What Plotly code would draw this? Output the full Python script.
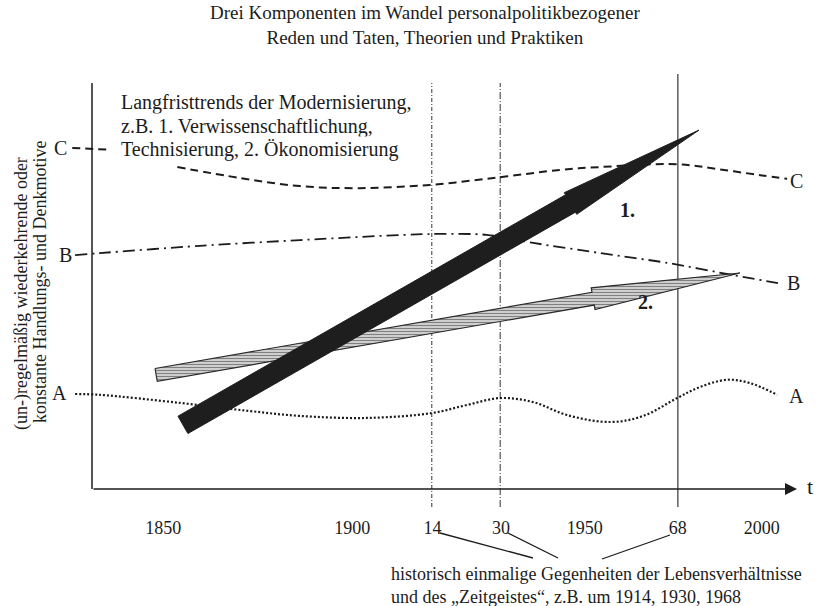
import math
import plotly.graph_objects as go

# ---------------- data (schematic time axis 0..100, level axis 0..100) ----------------
tick_labels = ["1850", "1900", "14", "30", "1950", "68", "2000"]
tick_pos = [10.1, 36.9, 48.3, 58.0, 69.9, 83.1, 95.0]

event_labels = ["14", "30", "68"]
event_pos = [48.2, 57.9, 83.1]

# C: dashed curve (gap where it runs behind the text block)
c_x = [-2.8, 2.3, None, 12.1, 21.0, 29.5, 38.0, 47.9, 57.9, 66.4, 72.1, 83.0, 88.7, 94.8, 98.6]
c_y = [84.0, 83.6, None, 79.3, 76.6, 74.6, 74.1, 74.9, 76.8, 78.6, 79.3, 80.0, 78.8, 77.3, 76.4]

# B: dash-dot curve
b_x = [-2.4, 1.1, 15.3, 29.5, 47.9, 56.0, 62.6, 72.1, 81.6, 90.9, 97.3]
b_y = [57.6, 58.1, 59.9, 61.3, 62.8, 62.6, 60.6, 58.1, 55.7, 52.7, 50.7]

# A: dotted wavy curve
a_x = [-2.4, 1.1, 12.5, 22.4, 29.5, 39.0, 48.2, 53.2, 57.9, 62.6, 67.4, 73.5, 78.2, 83.0, 86.2, 90.1, 93.3, 97.2]
a_y = [23.4, 23.2, 21.2, 19.2, 18.0, 17.5, 18.7, 20.7, 22.4, 21.4, 18.2, 16.5, 18.0, 22.4, 25.1, 26.9, 26.1, 23.2]

# trend arrows: tail -> tip
arrow1_tail, arrow1_tip = (12.9, 15.8), (86.1, 88.4)   # 1. Verwissenschaftlichung/Technisierung
arrow2_tail, arrow2_tip = (9.1, 28.1), (91.9, 53.2)    # 2. Ökonomisierung

# ---------------- geometry helpers ----------------
W, H = 817, 606
X0_PX, Y0_PX = 92, 489          # origin of the diagram in pixels
SX, SY = 7.05, 4.06              # pixels per unit
XR = [(0 - X0_PX) / SX, (W - X0_PX) / SX]
YR = [(Y0_PX - H) / SY, Y0_PX / SY]


def pu(px):
    return (px - X0_PX) / SX


def pv(py):
    return (Y0_PX - py) / SY


def arrow_poly(tail, tip, w, wb, head_len):
    x0, y0 = tail[0] * SX, tail[1] * SY
    x1, y1 = tip[0] * SX, tip[1] * SY
    dx, dy = x1 - x0, y1 - y0
    L = math.hypot(dx, dy)
    ux, uy = dx / L, dy / L
    nx, ny = -uy, ux
    s = L - head_len
    hx, hy = x0 + ux * s, y0 + uy * s
    pts = [
        (x0 + nx * w, y0 + ny * w),
        (hx + nx * w, hy + ny * w),
        (hx + nx * wb, hy + ny * wb),
        (x1, y1),
        (hx - nx * wb, hy - ny * wb),
        (hx - nx * w, hy - ny * w),
        (x0 - nx * w, y0 - ny * w),
        (x0 + nx * w, y0 + ny * w),
    ]
    return [p[0] / SX for p in pts], [p[1] / SY for p in pts]


INK = "#1c1c1c"
FONT = "Liberation Serif"

fig = go.Figure()

# event (vertical) lines
ev_styles = {"14": dict(dash="4px,2px,1px,2px", width=1, color="#333"),
             "30": dict(dash="7px,2px,1px,2px", width=1, color="#333"),
             "68": dict(dash="solid", width=1.3, color="#444")}
for lab, xpos in zip(event_labels, event_pos):
    top = pv(74) if lab == "68" else pv(83)
    fig.add_trace(go.Scatter(x=[xpos, xpos], y=[pv(507), top], mode="lines",
                             line=ev_styles[lab], hoverinfo="skip", showlegend=False))

# curves
fig.add_trace(go.Scatter(x=c_x, y=c_y, mode="lines", line=dict(color=INK, width=2, dash="8px,5px", shape="spline", smoothing=1.0),
                         connectgaps=False, showlegend=False, name="C"))
fig.add_trace(go.Scatter(x=b_x, y=b_y, mode="lines", line=dict(color=INK, width=1.8, dash="12px,5px,2px,5px", shape="spline", smoothing=0.8),
                         showlegend=False, name="B"))
fig.add_trace(go.Scatter(x=a_x, y=a_y, mode="lines", line=dict(color=INK, width=2.2, dash="2px,2px", shape="spline", smoothing=1.0),
                         showlegend=False, name="A"))

# arrow 2 (hatched)
ax2, ay2 = arrow_poly(arrow2_tail, arrow2_tip, 6.5, 11, 149)
fig.add_trace(go.Scatter(x=ax2, y=ay2, mode="lines", fill="toself",
                         fillcolor="#cfcfcf",
                         fillpattern=dict(shape="-", fgcolor="#2a2a2a", bgcolor="#d6d6d6", size=3, solidity=0.4),
                         line=dict(color="#2a2a2a", width=1.2), hoverinfo="skip", showlegend=False))
# arrow 1 (black)
ax1, ay1 = arrow_poly(arrow1_tail, arrow1_tip, 10, 12.5, 148)
fig.add_trace(go.Scatter(x=ax1, y=ay1, mode="lines", fill="toself", fillcolor="#1e1e1e",
                         line=dict(color="#1e1e1e", width=1), hoverinfo="skip", showlegend=False))

shapes = [
    dict(type="line", xref="x", yref="y", x0=0, y0=0, x1=0, y1=pv(83), line=dict(color=INK, width=1.5)),
    dict(type="line", xref="x", yref="y", x0=pu(440), y0=pv(533), x1=pu(533), y1=pv(558), line=dict(color=INK, width=1.3)),
    dict(type="line", xref="x", yref="y", x0=pu(508), y0=pv(533), x1=pu(558), y1=pv(558), line=dict(color=INK, width=1.3)),
    dict(type="line", xref="x", yref="y", x0=pu(670), y0=pv(535), x1=pu(602), y1=pv(559), line=dict(color=INK, width=1.3)),
]


def txt(text, px, py, size=20, xanchor="center", yanchor="middle", **kw):
    return dict(text=text, x=pu(px), y=pv(py), xref="x", yref="y", showarrow=False,
                xanchor=xanchor, yanchor=yanchor, font=dict(family=FONT, size=size, color=INK), **kw)


annotations = [
    # x axis with arrow head
    dict(x=100, y=0, ax=0, ay=0, xref="x", yref="y", axref="x", ayref="y", text="",
         showarrow=True, arrowhead=2, arrowsize=1.6, arrowwidth=1.5, arrowcolor=INK, standoff=0),
    txt("t", 810, 486, size=22),
    txt("Drei Komponenten im Wandel personalpolitikbezogener<br>Reden und Taten, Theorien und Praktiken", 425, 25, size=19),
    txt("Langfristtrends der Modernisierung,", 119, 102, size=20, xanchor="left", bgcolor="white"),
    txt("z.B. 1. Verwissenschaftlichung,", 119, 126, size=20, xanchor="left", bgcolor="white"),
    txt("Technisierung, 2. Ökonomisierung", 119, 149, size=20, xanchor="left", bgcolor="white"),
    txt("(un-)regelmäßig wiederkehrende oder", 21, 294, size=18, textangle=-90),
    txt("konstante Handlungs- und Denkmotive", 40, 282, size=18, textangle=-90),
    txt("C", 60, 148), txt("C", 796, 181),
    txt("B", 65, 255), txt("B", 793, 283),
    txt("A", 59, 393), txt("A", 796, 396),
    txt("<b>1.</b>", 627, 210, size=20),
    txt("<b>2.</b>", 645, 302, size=20),
    txt("historisch einmalige Gegenheiten der Lebensverhältnisse<br>und des „Zeitgeistes“, z.B. um 1914, 1930, 1968",
        389, 585, size=18, xanchor="left", align="left"),
]

fig.update_layout(
    width=W, height=H, margin=dict(l=0, r=0, t=0, b=0, pad=0),
    paper_bgcolor="white", plot_bgcolor="white",
    font=dict(family=FONT, color=INK),
    showlegend=False, shapes=shapes, annotations=annotations,
    xaxis=dict(range=XR, showgrid=False, zeroline=False, showline=False,
               tickmode="array", tickvals=tick_pos, ticktext=tick_labels, ticks="",
               tickfont=dict(family=FONT, size=18, color=INK),
               anchor="free", position=(H - 515) / H),
    yaxis=dict(range=YR, visible=False, showgrid=False, zeroline=False),
)

fig.write_html("out.html", config={"displayModeBar": False},
               post_script="document.body.style.margin='0px';document.body.style.overflow='hidden';")
